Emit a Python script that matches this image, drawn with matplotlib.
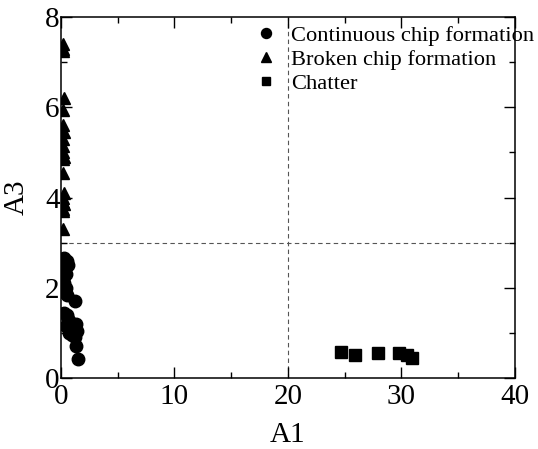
import numpy as np
import matplotlib
matplotlib.use('Agg')
import matplotlib.pyplot as plt
from matplotlib.ticker import MultipleLocator

# values
cont_a1 = [0.3, 0.5, 0.6, 0.3, 0.4, 0.2, 0.3, 0.4, 0.3, 0.5, 1.2, 0.3,
           0.5, 0.6, 0.8, 1.3, 0.4, 0.9, 1.4, 0.7, 1.0, 1.2, 1.3, 1.5]
cont_a3 = [2.65, 2.6, 2.5, 2.4, 2.3, 2.2, 2.1, 2.0, 1.9, 1.85, 1.7, 1.45,
           1.4, 1.3, 1.25, 1.2, 1.15, 1.1, 1.05, 1.0, 0.95, 0.9, 0.7, 0.42]

broken_a1 = [0.2, 0.2, 0.2, 0.25, 0.2, 0.2, 0.25, 0.2, 0.2, 0.2, 0.25,
             0.2, 0.2, 0.25, 0.2, 0.2, 0.25, 0.2, 0.2, 0.2]
broken_a3 = [7.4, 7.3, 7.25, 6.2, 5.95, 5.6, 5.45, 5.3, 5.15, 5.0, 4.9,
             4.85, 4.55, 4.1, 4.0, 3.9, 3.85, 3.75, 3.7, 3.3]

chatter_a1 = [24.7, 25.9, 27.9, 29.8, 30.5, 30.9]
chatter_a3 = [0.58, 0.52, 0.55, 0.55, 0.5, 0.44]

plt.rcParams['font.family'] = ['Liberation Serif', 'DejaVu Serif']

fig = plt.figure(figsize=(5.38, 4.49), dpi=100)
ax = fig.add_axes([0.1134, 0.1581, 0.957 - 0.1134, 0.9621 - 0.1581])

ax.axvline(20, color='#555555', linestyle=(0, (4, 3)), linewidth=0.8, zorder=1)
ax.axhline(3, color='#555555', linestyle=(0, (4, 3)), linewidth=0.8, zorder=1)

ax.plot(cont_a1, cont_a3, 'o', color='black', ms=9, label='Continuous chip formation', zorder=3)
ax.plot(broken_a1, broken_a3, '^', color='black', ms=9, label='Broken chip formation', zorder=3)
ax.plot(chatter_a1, chatter_a3, 's', color='black', ms=8, label='Chatter', zorder=3)

ax.set_xlim(0, 40)
ax.set_ylim(0, 8)
ax.xaxis.set_major_locator(MultipleLocator(10))
ax.xaxis.set_minor_locator(MultipleLocator(5))
ax.yaxis.set_major_locator(MultipleLocator(2))
ax.yaxis.set_minor_locator(MultipleLocator(1))
ax.tick_params(which='both', direction='in', top=True, right=True, width=1.0)
ax.tick_params(which='major', length=8, labelsize=21)
ax.tick_params(axis='x', which='major', pad=4)
ax.tick_params(axis='y', which='major', pad=1)
ax.tick_params(which='minor', length=4)
for s in ax.spines.values():
    s.set_linewidth(1.1)

ax.set_xlabel('A1', fontsize=21, labelpad=9)
ax.set_ylabel('A3', fontsize=21, labelpad=11)

leg = ax.legend(loc='upper left', bbox_to_anchor=(0.418, 1.003), frameon=False,
                fontsize=16.2, handlelength=0.6, handletextpad=0.8,
                labelspacing=0.15, borderaxespad=0, markerscale=0.8)

fig.savefig('out.png', dpi=100)
